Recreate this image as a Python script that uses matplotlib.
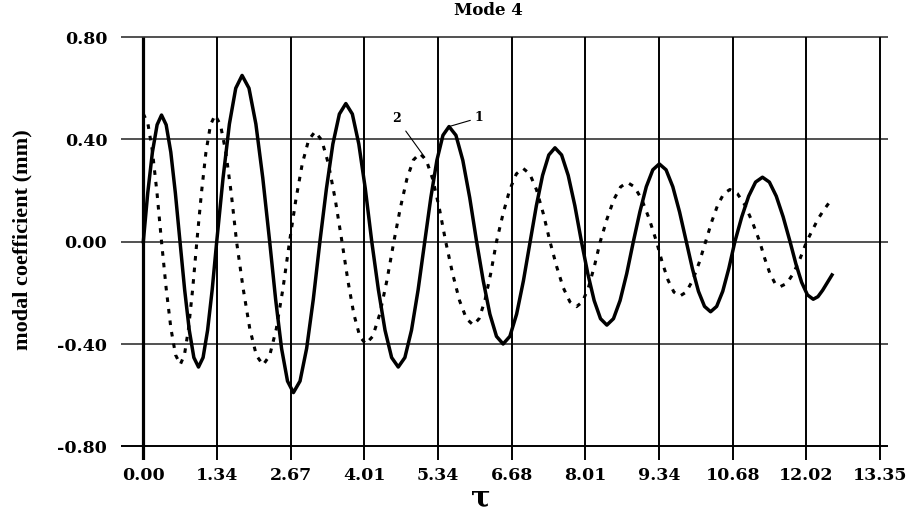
import matplotlib
matplotlib.use("Agg")
import matplotlib.pyplot as plt

# modal coefficient of mode 4, curve 1 (solid)
tau_1 = [0.00, 0.08, 0.165, 0.25, 0.33, 0.414, 0.498, 0.581, 0.665,
         0.749, 0.833, 0.916, 1.00, 1.083, 1.165, 1.248, 1.33,
         1.445, 1.56, 1.675, 1.79, 1.915, 2.04, 2.165, 2.29,
         2.398, 2.505, 2.613, 2.72, 2.84, 2.96, 3.08, 3.20,
         3.318, 3.435, 3.553, 3.67, 3.788, 3.905, 4.023, 4.14,
         4.26, 4.38, 4.50, 4.62, 4.74, 4.86, 4.98, 5.10,
         5.21, 5.32, 5.43, 5.54, 5.665, 5.79, 5.915, 6.04,
         6.16, 6.28, 6.40, 6.52, 6.643, 6.765, 6.888, 7.01,
         7.123, 7.235, 7.348, 7.46, 7.58, 7.70, 7.82, 7.94,
         8.055, 8.17, 8.285, 8.40, 8.52, 8.64, 8.76, 8.88,
         8.998, 9.115, 9.233, 9.35, 9.473, 9.595, 9.718, 9.84,
         9.95, 10.06, 10.17, 10.28, 10.39, 10.50, 10.61, 10.72,
         10.845, 10.97, 11.095, 11.22, 11.345, 11.47, 11.595, 11.72,
         11.825, 11.93, 12.035, 12.14, 12.225, 12.31, 12.395, 12.48]
coef_1 = [0.00, 0.19, 0.35, 0.457, 0.495, 0.457, 0.35, 0.19, 0.00,
          -0.188, -0.346, -0.453, -0.49, -0.453, -0.346, -0.188, 0.00,
          0.249, 0.46, 0.60, 0.65, 0.60, 0.46, 0.249, 0.00,
          -0.226, -0.417, -0.545, -0.59, -0.545, -0.417, -0.226, 0.00,
          0.207, 0.382, 0.499, 0.54, 0.499, 0.382, 0.207, 0.00,
          -0.188, -0.346, -0.453, -0.49, -0.453, -0.346, -0.188, 0.00,
          0.172, 0.318, 0.416, 0.45, 0.416, 0.318, 0.172, 0.00,
          -0.153, -0.283, -0.37, -0.40, -0.37, -0.283, -0.153, 0.00,
          0.141, 0.259, 0.339, 0.367, 0.339, 0.259, 0.141, 0.00,
          -0.125, -0.23, -0.301, -0.326, -0.301, -0.23, -0.125, 0.00,
          0.116, 0.215, 0.281, 0.304, 0.281, 0.215, 0.116, 0.00,
          -0.105, -0.194, -0.253, -0.274, -0.253, -0.194, -0.105, 0.00,
          0.097, 0.178, 0.233, 0.252, 0.233, 0.178, 0.097, 0.00,
          -0.086, -0.159, -0.208, -0.225, -0.215, -0.19, -0.16, -0.13]

# curve 2 (dotted)
tau_2 = [0.00, 0.083, 0.165, 0.248, 0.33,
         0.415, 0.50, 0.585, 0.67, 0.745, 0.82, 0.895, 0.97,
         1.053, 1.135, 1.218, 1.30, 1.398, 1.495, 1.593, 1.69,
         1.81, 1.93, 2.05, 2.17, 2.29, 2.41, 2.53, 2.65,
         2.765, 2.88, 2.995, 3.11, 3.233, 3.355, 3.478, 3.60,
         3.708, 3.815, 3.923, 4.03, 4.158, 4.285, 4.413, 4.54,
         4.658, 4.775, 4.893, 5.01, 5.128, 5.245, 5.363, 5.48,
         5.605, 5.73, 5.855, 5.98, 6.085, 6.19, 6.295, 6.40,
         6.52, 6.64, 6.76, 6.88, 7.003, 7.125, 7.248, 7.37,
         7.49, 7.61, 7.73, 7.85, 7.958, 8.065, 8.173, 8.28,
         8.403, 8.525, 8.648, 8.77, 8.903, 9.035, 9.168, 9.30,
         9.405, 9.51, 9.615, 9.72, 9.838, 9.955, 10.073, 10.19,
         10.30, 10.41, 10.52, 10.63, 10.765, 10.90, 11.035, 11.17,
         11.263, 11.355, 11.448, 11.54, 11.66, 11.78, 11.90, 12.02,
         12.125, 12.23, 12.335, 12.44]
coef_2 = [0.50, 0.462, 0.354, 0.191, 0.00,
          -0.184, -0.339, -0.443, -0.48, -0.443, -0.339, -0.184, 0.00,
          0.19, 0.35, 0.457, 0.495, 0.457, 0.35, 0.19, 0.00,
          -0.184, -0.341, -0.445, -0.482, -0.445, -0.341, -0.184, 0.00,
          0.165, 0.304, 0.397, 0.43, 0.397, 0.304, 0.165, 0.00,
          -0.153, -0.283, -0.37, -0.40, -0.37, -0.283, -0.153, 0.00,
          0.132, 0.244, 0.319, 0.345, 0.319, 0.244, 0.132, 0.00,
          -0.125, -0.23, -0.301, -0.326, -0.301, -0.23, -0.125, 0.00,
          0.11, 0.203, 0.265, 0.287, 0.265, 0.203, 0.11, 0.00,
          -0.097, -0.18, -0.235, -0.254, -0.235, -0.18, -0.097, 0.00,
          0.089, 0.164, 0.214, 0.232, 0.214, 0.164, 0.089, 0.00,
          -0.082, -0.151, -0.197, -0.213, -0.197, -0.151, -0.082, 0.00,
          0.078, 0.144, 0.188, 0.204, 0.188, 0.144, 0.078, 0.00,
          -0.067, -0.124, -0.163, -0.176, -0.163, -0.124, -0.067, 0.00,
          0.045, 0.09, 0.125, 0.156]

x_ticks = [0.00, 1.335, 2.67, 4.005, 5.34, 6.675, 8.01, 9.345, 10.68, 12.015, 13.35]
x_labels = ["0.00", "1.34", "2.67", "4.01", "5.34", "6.68", "8.01", "9.34", "10.68", "12.02", "13.35"]
y_ticks = [-0.80, -0.40, 0.00, 0.40, 0.80]
y_labels = ["-0.80", "-0.40", "0.00", "0.40", "0.80"]

tick_font = dict(family="DejaVu Serif", weight="bold", size=12.5)

fig = plt.figure(figsize=(9.15, 5.14), dpi=100)
ax = fig.add_axes([0.1325, 0.1043, 0.8383, 0.8286])
ax.set_xlim(-0.40, 13.5)
ax.set_ylim(-0.855, 0.81)
for s in ax.spines.values():
    s.set_visible(False)

# grid: horizontal lines run past the left axis, vertical ones drop below as ticks
ax.hlines(y_ticks[1:], -0.40, 13.5, color="#222222", lw=1.1, zorder=1)
ax.hlines(y_ticks[0], -0.40, 13.5, color="black", lw=1.4, zorder=1)
ax.vlines(x_ticks[1:], -0.855, 0.80, color="black", lw=1.4, zorder=1)
ax.vlines(x_ticks[0], -0.855, 0.80, color="black", lw=2.3, zorder=1)

ax.plot(tau_1, coef_1, color="black", lw=2.5, solid_joinstyle="round", zorder=3)
ax.plot(tau_2, coef_2, color="black", lw=2.2, linestyle=(0, (1.5, 2.3)), zorder=3)

ax.annotate("1", xy=(5.54, 0.45), xytext=(6.08, 0.484), ha="center", va="center",
            fontfamily="DejaVu Serif", fontweight="bold", fontsize=9,
            arrowprops=dict(arrowstyle="-", lw=0.8, color="black", shrinkA=1, shrinkB=0))
ax.annotate("2", xy=(5.10, 0.33), xytext=(4.59, 0.482), ha="center", va="center",
            fontfamily="DejaVu Serif", fontweight="bold", fontsize=9,
            arrowprops=dict(arrowstyle="-", lw=0.8, color="black", shrinkA=3, shrinkB=0))

ax.set_xticks(x_ticks)
ax.set_xticklabels(x_labels, fontdict=tick_font)
ax.set_yticks(y_ticks)
ax.set_yticklabels(y_labels, fontdict=tick_font)
ax.tick_params(axis="x", length=0, pad=5)
ax.tick_params(axis="y", length=0, pad=10)

fig.text(0.5335, 0.9708, "Mode 4", ha="center", va="baseline",
         family="DejaVu Serif", weight="bold", size=12)
fig.text(0.025, 0.533, "modal coefficient (mm)", rotation=90, ha="center", va="center",
         family="Liberation Serif", weight="bold", size=16)
fig.text(0.5257, 0.003, "τ", ha="center", va="bottom",
         family="DejaVu Serif", weight="bold", size=21)

fig.savefig("out.png", dpi=100)
